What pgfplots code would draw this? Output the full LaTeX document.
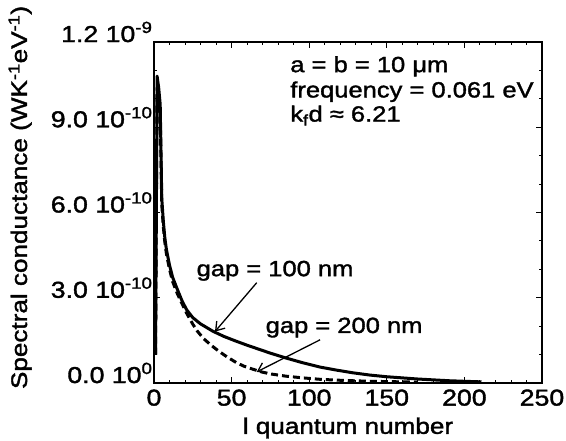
\documentclass[border=0pt]{standalone}
\usepackage{fontspec}
\setmainfont{Liberation Sans}[FakeStretch=1.16, FakeBold=1.6]
\usepackage{pgfplots}
\pgfplotsset{compat=1.18}
\usetikzlibrary{arrows.meta}
\pgfplotstableread{
l v
1 1.0
2 10.8
3 10.4
4 9.8
5 6.5
6 5.7
7 5.1
8 4.7
10 4.15
12 3.72
15 3.3
18 2.9
21 2.58
25 2.3
30 2.08
38 1.82
45 1.64
53 1.47
60 1.33
68 1.18
75 1.05
85 0.88
96 0.71
107 0.56
118 0.45
128 0.36
139 0.28
150 0.22
160 0.18
170 0.14
180 0.11
190 0.08
200 0.06
211 0.04
}\gapone
\pgfplotstableread{
l v
1 1.0
2 10.4
3 10.0
4 9.5
5 6.3
6 5.5
7 4.95
8 4.55
10 4.0
12 3.57
15 3.15
18 2.8
21 2.46
25 2.07
28 1.82
32 1.56
37 1.32
42 1.11
47 0.92
53 0.72
58 0.59
64 0.48
70 0.38
75 0.32
85 0.24
96 0.18
107 0.13
118 0.10
128 0.08
139 0.06
150 0.05
160 0.04
170 0.03
}\gaptwo
\begin{document}
\fontsize{22}{26}\selectfont
\begin{tikzpicture}
\useasboundingbox (-154pt,-57pt) rectangle (412pt,383pt);
\begin{axis}[
  scale only axis,
  width=388pt, height=341pt,
  xmin=0, xmax=250, ymin=0, ymax=12,
  xtick={0,50,100,150,200,250},
  minor x tick num=4,
  ytick={0,3,6,9,12},
  minor y tick num=2,
  yticklabels={0.0 10\textsuperscript{0},3.0 10\textsuperscript{-10},6.0 10\textsuperscript{-10},9.0 10\textsuperscript{-10},1.2 10\textsuperscript{-9}},
  /pgf/number format/assume math mode=true,
  tick align=inside,
  major tick length=6pt, minor tick length=3pt,
  every tick/.style={line width=0.9pt, black},
  axis line style={line width=1.2pt},
  tick label style={font=\fontsize{23}{27}\selectfont},
  yticklabel style={anchor=base east, xshift=6pt},
  xticklabel style={yshift=1pt},
  label style={font=\fontsize{22.5}{27}\selectfont},
  xlabel={l quantum number},
  xlabel style={at={(axis description cs:0.5,-0.132)}, anchor=center},
  ylabel={Spectral conductance (WK\textsuperscript{-1}eV\textsuperscript{-1})},
  ylabel style={at={(axis description cs:-0.345,0.544)}, anchor=center},
]
\addplot[black, line width=3pt, line join=round] table[x=l,y=v] {\gapone};
\addplot[black, line width=3pt, dash pattern=on 7pt off 4pt] table[x=l,y=v] {\gaptwo};
\node[anchor=base west] at (axis cs:83,10.94) {a = b = 10 μm};
\node[anchor=base west] at (axis cs:83,10.05) {frequency = 0.061 eV};
\node[anchor=base west] at (axis cs:83,9.2) {k\textsubscript{f}d ≈ 6.21};
\node[anchor=base] at (axis cs:78,3.76) {gap = 100 nm};
\node[anchor=base] at (axis cs:122.5,1.76) {gap = 200 nm};
\draw[-{Straight Barb[length=8pt,width=11pt]}, line width=1.3pt] (axis cs:66.2,3.53) -- (axis cs:39.3,1.81);
\draw[-{Straight Barb[length=8pt,width=11pt]}, line width=1.3pt] (axis cs:107,1.52) -- (axis cs:66.2,0.39);
\end{axis}
\end{tikzpicture}
\end{document}
